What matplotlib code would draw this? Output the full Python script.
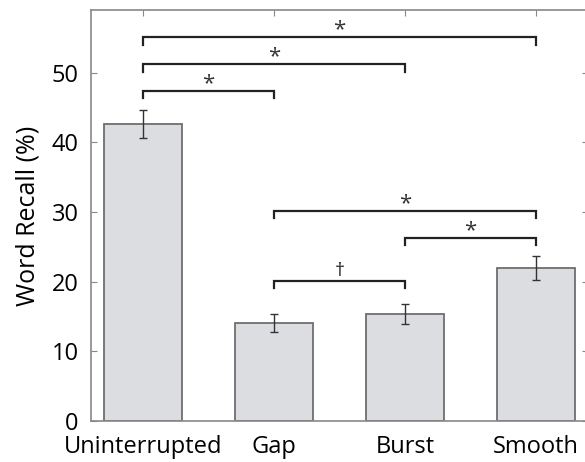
import matplotlib
matplotlib.use("Agg")
import matplotlib.pyplot as plt

conditions = ['Uninterrupted', 'Gap', 'Burst', 'Smooth']
recall = [42.7, 14.1, 15.4, 22.0]
sem = [2.0, 1.3, 1.45, 1.75]

# significance brackets: (from index, to index, bracket height, label)
brackets = [
    (0, 3, 55.1, '*'),
    (0, 2, 51.2, '*'),
    (0, 1, 47.4, '*'),
    (1, 3, 30.2, '*'),
    (2, 3, 26.3, '*'),
    (1, 2, 20.1, '\u2020'),
]

plt.rcParams['font.family'] = ['Open Sans', 'DejaVu Sans']

fig = plt.figure(figsize=(5.85, 4.62), dpi=100)
ax = fig.add_axes([0.1556, 0.0887, 0.85, 0.8896])

x = list(range(1, len(conditions) + 1))
ax.bar(x, recall, width=0.6, color='#dcdde0', edgecolor='#6e6e6e', linewidth=1.3, zorder=2)
ax.errorbar(x, recall, yerr=sem, fmt='none', ecolor='#333333', elinewidth=1.0,
            capsize=3, capthick=1.0, zorder=3)

drop = 1.05
for i, j, h, lab in brackets:
    xi, xj = x[i], x[j]
    ax.plot([xi, xi, xj, xj], [h - drop, h, h, h - drop], color='#222222', lw=1.6,
            solid_joinstyle='miter', zorder=3)
    if lab == '*':
        ax.text((xi + xj) / 2, h + 0.25, lab, ha='center', va='baseline', fontsize=16, color='#333333')
    else:
        ax.text((xi + xj) / 2, h + 0.2, lab, ha='center', va='bottom', fontsize=14, color='#222222')

ax.set_xlim(0.603, 4.40)
ax.set_ylim(0, 59)
ax.set_xticks(x)
ax.set_xticklabels(conditions, fontsize=17)
ax.set_yticks([0, 10, 20, 30, 40, 50])
ax.tick_params(axis='y', labelsize=17, direction='in', right=True, length=4, color='#888888', pad=9)
ax.tick_params(axis='x', direction='in', top=True, bottom=False, length=4, color='#888888', pad=10)
for s in ax.spines.values():
    s.set_color('#888888')
    s.set_linewidth(1.2)
ax.set_ylabel('Word Recall (%)', fontsize=18, labelpad=8)

fig.savefig('out.png', dpi=100)
